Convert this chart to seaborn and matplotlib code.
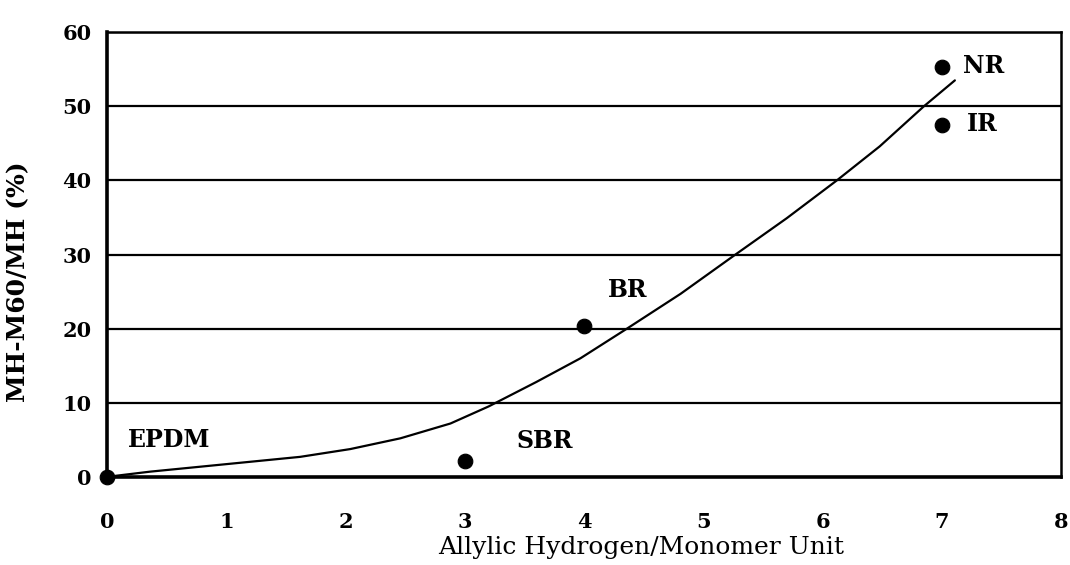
import matplotlib
matplotlib.use("Agg")
import matplotlib.pyplot as plt
import seaborn as sns
import pandas as pd

# measured rubbers
rubbers = ["EPDM", "SBR", "BR", "IR", "NR"]
allylic_h = [0, 3, 4, 7, 7]
decay_pct = [0.0, 2.2, 20.4, 47.5, 55.3]

# fitted trend curve
curve_x = [0, 0.36, 0.99, 1.62, 2.04, 2.46, 2.88, 3.2, 3.6, 3.97, 4.36,
           4.81, 5.27, 5.70, 6.12, 6.48, 6.85, 7.11]
curve_y = [0, 0.7, 1.7, 2.7, 3.75, 5.2, 7.2, 9.5, 12.8, 16.0, 20.0,
           24.7, 30.0, 34.9, 40.0, 44.6, 50.0, 53.5]

x_ticks = [0, 1, 2, 3, 4, 5, 6, 7, 8]
y_ticks = [0, 10, 20, 30, 40, 50, 60]

sns.set_style("white")
plt.rcParams["font.family"] = ["DejaVu Serif"]
plt.rcParams["text.color"] = "black"
plt.rcParams["axes.labelcolor"] = "black"
plt.rcParams["xtick.color"] = "black"
plt.rcParams["ytick.color"] = "black"

pts = pd.DataFrame({"rubber": rubbers, "x": allylic_h, "y": decay_pct})
fit = pd.DataFrame({"x": curve_x, "y": curve_y})

fig = plt.figure(figsize=(10.7, 5.65), dpi=100)
ax = fig.add_axes([0.1, 0.156, 0.8916, 0.787])

# horizontal grid
for yv in y_ticks[1:]:
    ax.axhline(yv, color="black", lw=1.6, zorder=1)

sns.lineplot(data=fit, x="x", y="y", ax=ax, color="black", lw=1.6,
             sort=False, zorder=3)
sns.scatterplot(data=pts, x="x", y="y", ax=ax, color="black", s=110,
                edgecolor="black", zorder=4, clip_on=False)

offsets = {"EPDM": (21, 37), "SBR": (52, 20), "BR": (24, 36),
           "IR": (25, 1), "NR": (21, 1)}
for name, xv, yv in zip(rubbers, allylic_h, decay_pct):
    dx, dy = offsets[name]
    ax.annotate(name, (xv, yv), xytext=(dx * 0.72, dy * 0.72),
                textcoords="offset points", ha="left", va="center",
                fontsize=17, fontweight="bold", color="black")

ax.set_xlim(0, 8)
ax.set_ylim(0, 60)
ax.set_xticks(x_ticks)
ax.set_yticks(y_ticks)
ax.tick_params(axis="both", direction="out", length=7, width=2,
               color="black", labelcolor="black", labelsize=15, pad=4)
ax.tick_params(axis="x", pad=18)
for lbl in ax.get_xticklabels() + ax.get_yticklabels():
    lbl.set_fontweight("bold")

for side in ["left", "bottom"]:
    ax.spines[side].set_linewidth(2.6)
for side in ["top", "right"]:
    ax.spines[side].set_linewidth(1.8)
for sp in ax.spines.values():
    sp.set_color("black")

ax.set_xlabel("Allylic Hydrogen/Monomer Unit", fontsize=18, color="black")
ax.xaxis.set_label_coords(0.56, -0.133)
ax.set_ylabel("MH-M60/MH (%)", fontsize=18, fontweight="bold", color="black")
ax.yaxis.set_label_coords(-0.08, 0.44)

fig.savefig("out.png", dpi=100)
